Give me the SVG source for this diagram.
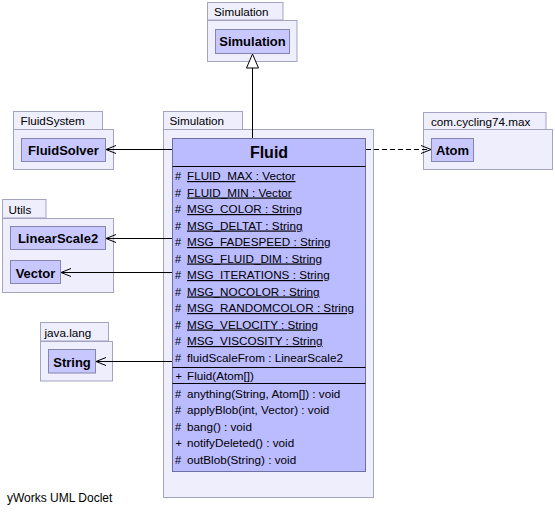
<svg xmlns="http://www.w3.org/2000/svg" width="555" height="515" viewBox="0 0 555 515">
  <style>
    .pkg { fill: #eeeefc; stroke: #a3a3c2; stroke-width: 1; }
    .cls { fill: #c8c8ff; stroke: #8585b0; stroke-width: 1; }
    .main { fill: #bbbbff; stroke: #6f6fa0; stroke-width: 1; }
    .sep { stroke: #000; stroke-width: 1; }
    .plabel { font-family: "Liberation Sans", Arial, sans-serif; font-size: 11.7px; fill: #000; }
    .cname { font-family: "Liberation Sans", Arial, sans-serif; font-size: 13px; font-weight: bold; fill: #000; text-anchor: middle; }
    .title { font-family: "Liberation Sans", Arial, sans-serif; font-size: 16px; font-weight: bold; fill: #000; text-anchor: middle; }
    .mem { font-family: "Liberation Sans", Arial, sans-serif; font-size: 11.7px; fill: #000; }
    .st { text-decoration: underline; }
    .vis { font-family: "Liberation Sans", Arial, sans-serif; font-size: 11px; fill: #000; }
    .edge { fill: none; stroke: #000; stroke-width: 1; }
    .dash { stroke-dasharray: 5 3; }
    .footer { font-family: "Liberation Sans", Arial, sans-serif; font-size: 12px; fill: #000; }
  </style>
  <defs>
    <marker id="open" viewBox="0 0 12 10" refX="11" refY="5" markerWidth="12" markerHeight="10" markerUnits="userSpaceOnUse" orient="auto">
      <path d="M1,1 L11,5 L1,9" fill="none" stroke="#000" stroke-width="1"/>
    </marker>
    <marker id="gen" viewBox="0 0 14 16" refX="7" refY="1" markerWidth="14" markerHeight="16" markerUnits="userSpaceOnUse" orient="0">
      <path d="M7,1 L13,15 L1,15 Z" fill="#fff" stroke="#000" stroke-width="1"/>
    </marker>
  </defs>

  <!-- package Simulation (superclass) -->
  <g id="pkg-simulation-top">
    <rect class="pkg" x="207.5" y="2.5" width="75.5" height="17.5"/>
    <rect class="pkg" x="207.5" y="20.5" width="89.5" height="41"/>
    <text class="plabel" x="214" y="16">Simulation</text>
  </g>
  <g id="Simulation">
    <rect class="cls" x="215.5" y="29.5" width="74" height="24"/>
    <text class="cname" x="252.5" y="46">Simulation</text>
  </g>

  <!-- package FluidSystem -->
  <g id="pkg-fluidsystem">
    <rect class="pkg" x="13.5" y="111.5" width="89" height="18"/>
    <rect class="pkg" x="13.5" y="129.5" width="100" height="40"/>
    <text class="plabel" x="20.5" y="125">FluidSystem</text>
  </g>
  <g id="FluidSolver">
    <rect class="cls" x="21.5" y="138.5" width="84" height="23"/>
    <text class="cname" x="63.5" y="155">FluidSolver</text>
  </g>

  <!-- package Utils -->
  <g id="pkg-utils">
    <rect class="pkg" x="2.5" y="199.5" width="43.5" height="18.5"/>
    <rect class="pkg" x="2.5" y="218.5" width="111" height="74"/>
    <text class="plabel" x="8.5" y="213.5">Utils</text>
  </g>
  <g id="LinearScale2">
    <rect class="cls" x="10.5" y="226.5" width="95" height="23"/>
    <text class="cname" x="58" y="243">LinearScale2</text>
  </g>
  <g id="Vector">
    <rect class="cls" x="10.5" y="260.5" width="50" height="23"/>
    <text class="cname" x="35.5" y="277.5">Vector</text>
  </g>

  <!-- package java.lang -->
  <g id="pkg-java-lang">
    <rect class="pkg" x="40.5" y="322.5" width="68" height="18.5"/>
    <rect class="pkg" x="40.5" y="341.5" width="72" height="39.5"/>
    <text class="plabel" x="44.5" y="336.5">java.lang</text>
  </g>
  <g id="String">
    <rect class="cls" x="48.5" y="349.5" width="47" height="23.5"/>
    <text class="cname" x="72" y="366.5">String</text>
  </g>

  <!-- package com.cycling74.max -->
  <g id="pkg-com-cycling74-max">
    <rect class="pkg" x="423.5" y="112.5" width="122.5" height="17"/>
    <rect class="pkg" x="423.5" y="129.5" width="129" height="40"/>
    <text class="plabel" x="431" y="125.5">com.cycling74.max</text>
  </g>
  <g id="Atom">
    <rect class="cls" x="431.5" y="138.5" width="42" height="23"/>
    <text class="cname" x="452.5" y="155">Atom</text>
  </g>

  <!-- package Simulation (main) -->
  <g id="pkg-simulation">
    <rect class="pkg" x="163.5" y="111.5" width="79" height="18"/>
    <rect class="pkg" x="163.5" y="129.5" width="210" height="368"/>
    <text class="plabel" x="169.5" y="125">Simulation</text>
  </g>

  <!-- class Fluid -->
  <g id="Fluid">
    <rect class="main" x="172.5" y="138.5" width="193" height="333"/>
    <text class="title" x="269" y="158">Fluid</text>
    <line class="sep" x1="172.5" y1="166.5" x2="365.5" y2="166.5"/>
    <g class="vis">
      <text x="175" y="180">#</text>
      <text x="175" y="196.5">#</text>
      <text x="175" y="213">#</text>
      <text x="175" y="229.5">#</text>
      <text x="175" y="246">#</text>
      <text x="175" y="262.5">#</text>
      <text x="175" y="279">#</text>
      <text x="175" y="295.5">#</text>
      <text x="175" y="312">#</text>
      <text x="175" y="328.5">#</text>
      <text x="175" y="345">#</text>
      <text x="175" y="361.5">#</text>
      <text x="175.5" y="380">+</text>
      <text x="175" y="397.5">#</text>
      <text x="175" y="414">#</text>
      <text x="175" y="430.5">#</text>
      <text x="175.5" y="447">+</text>
      <text x="175" y="463.5">#</text>
    </g>
    <g class="mem">
      <text class="st" x="187" y="180">FLUID_MAX : Vector</text>
      <text class="st" x="187" y="196.5">FLUID_MIN : Vector</text>
      <text class="st" x="187" y="213">MSG_COLOR : String</text>
      <text class="st" x="187" y="229.5">MSG_DELTAT : String</text>
      <text class="st" x="187" y="246">MSG_FADESPEED : String</text>
      <text class="st" x="187" y="262.5">MSG_FLUID_DIM : String</text>
      <text class="st" x="187" y="279">MSG_ITERATIONS : String</text>
      <text class="st" x="187" y="295.5">MSG_NOCOLOR : String</text>
      <text class="st" x="187" y="312">MSG_RANDOMCOLOR : String</text>
      <text class="st" x="187" y="328.5">MSG_VELOCITY : String</text>
      <text class="st" x="187" y="345">MSG_VISCOSITY : String</text>
      <text x="187" y="361.5">fluidScaleFrom : LinearScale2</text>
      <text x="187" y="380">Fluid(Atom[])</text>
      <text x="187" y="397.5">anything(String, Atom[]) : void</text>
      <text x="187" y="414">applyBlob(int, Vector) : void</text>
      <text x="187" y="430.5">bang() : void</text>
      <text x="187" y="447">notifyDeleted() : void</text>
      <text x="187" y="463.5">outBlob(String) : void</text>
    </g>
    <line class="sep" x1="172.5" y1="367.5" x2="365.5" y2="367.5"/>
    <line class="sep" x1="172.5" y1="383.5" x2="365.5" y2="383.5"/>
  </g>

  <!-- connectors -->
  <g id="edges">
    <path class="edge" d="M252.5,138 L252.5,54" marker-end="url(#gen)"/>
    <path class="edge" d="M172,149.5 L106,149.5" marker-end="url(#open)"/>
    <path class="edge" d="M172,238.5 L106,238.5" marker-end="url(#open)"/>
    <path class="edge" d="M172,272.5 L61,272.5" marker-end="url(#open)"/>
    <path class="edge" d="M172,361.5 L96,361.5" marker-end="url(#open)"/>
    <path class="edge dash" d="M366,149.5 L431,149.5" marker-end="url(#open)"/>
  </g>

  <text class="footer" x="7" y="502">yWorks UML Doclet</text>
</svg>
